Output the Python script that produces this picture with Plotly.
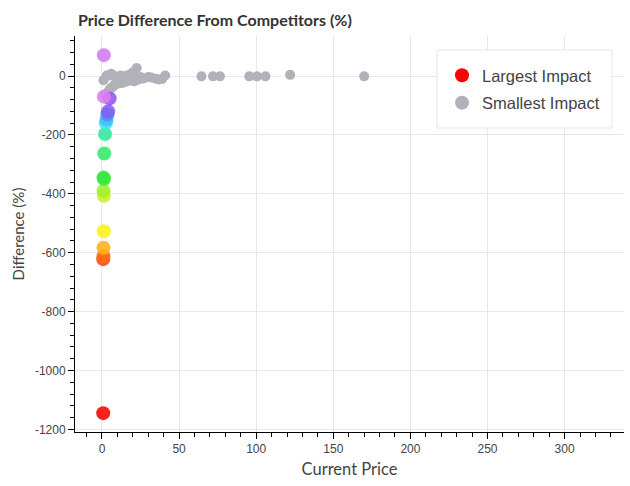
import plotly.graph_objects as go

# Largest impact points (coloured by impact)
x_large = [0.8, 0.8, 1.0, 1.0, 1.2, 1.2, 1.0, 1.3, 1.0, 1.5, 2.0, 2.5, 3.0, 3.5, 4.0, 5.0, 1.2, 1.2]
y_large = [-1145, -622, -611, -583, -527, -407, -390, -350, -345, -263, -197, -160, -148, -130, -120, -76, -70, 71]
c_large = ["#ff0000", "#ff4510", "#ff7015", "#ffb21a", "#f8f21a", "#c8f024", "#a2ee30",
           "#4eee30", "#34e646", "#34e86a", "#30e89a", "#40e8e4", "#44bcff", "#5a86ff",
           "#8060f0", "#9256ee", "#e07ef0", "#cf7cf0"]

# Smallest impact points (grey)
x_small = [1, 2, 3, 4, 5, 6, 7, 8, 9, 10, 11, 12, 13, 15, 16, 17, 19, 20, 21, 23, 24,
           3, 5, 6, 8, 10, 12, 14, 16, 18, 20, 22.5, 25, 27, 30, 32, 35, 37, 39, 41,
           64.5, 72, 76.5, 95.5, 100.5, 106, 122, 170]
y_small = [-14, -65, -59, -54, -45, -40, -37, -30, -28, -26, -22, -20, -24, -20, -18, -15, -15, -12, -18, -9, -12,
           2, 2, 8, 0, -5, 2, -3, 2, 5, 13, 27, -3, -8, -3, -5, -9, -12, -10, 2,
           -1, -1, -1, -1, -1, -1, 4, -1]

y_tickvals = [-1200, -1000, -800, -600, -400, -200, 0]
y_ticktext = ["-1200", "-1000", "-800", "-600", "-400", "-200", "0"]

fig = go.Figure()
fig.add_trace(go.Scatter(x=x_small, y=y_small, mode="markers", showlegend=False,
                         marker=dict(size=10, color="#b1b1b9", line=dict(width=0))))
fig.add_trace(go.Scatter(x=x_large, y=y_large, mode="markers", showlegend=False,
                         marker=dict(size=14, color=c_large, opacity=0.88, line=dict(width=0))))
# legend entries
fig.add_trace(go.Scatter(x=[None], y=[None], mode="markers", name="Largest Impact",
                         legendgroup="a", marker=dict(size=14, color="#ff0000")))
fig.add_trace(go.Scatter(x=[None], y=[None], mode="markers", name="Smallest Impact",
                         legendgroup="b", marker=dict(size=14, color="#b1b1b9")))

# legend box (paper coords of the plot area)
L, T, W, H = 75, 36, 549, 396
def px(x): return (x - L) / W
def py(y): return 1 - (y - T) / H
fig.add_shape(type="rect", xref="paper", yref="paper", layer="above",
              x0=px(437), x1=px(612), y0=py(128), y1=py(50),
              fillcolor="white", line=dict(color="#e5e5e5", width=1))

fig.update_layout(
    width=630, height=486,
    margin=dict(l=L, r=630 - L - W, t=T, b=486 - T - H),
    paper_bgcolor="white", plot_bgcolor="white",
    title=dict(text="<b>Price Difference From Competitors (%)</b>",
               font=dict(family="Lato", size=16, color="#333"),
               x=78/630, xanchor="left", xref="container",
               y=1-20/486, yanchor="middle", yref="container"),
    legend=dict(x=px(442), y=py(58), xanchor="left", yanchor="top",
                bgcolor="rgba(0,0,0,0)", borderwidth=0,
                font=dict(family="Liberation Sans, Arial", size=16.5, color="#444"),
                tracegroupgap=3, itemclick=False),
    font=dict(family="Liberation Sans, Arial", size=12, color="#444"),
)
fig.update_xaxes(range=[-17.5, 338.5], dtick=50, tick0=0, showgrid=True, gridcolor="#e8e8e8",
                 zeroline=False, showline=True, linecolor="black", linewidth=1,
                 ticks="outside", ticklen=6, tickcolor="black",
                 minor=dict(ticks="outside", ticklen=4, tickcolor="black", dtick=10, tick0=0, showgrid=False),
                 title=dict(text="Current Price", font=dict(family="Lato", size=16.5, color="#444"), standoff=8),
                 tickfont=dict(size=12, color="#444"))
fig.update_yaxes(range=[-1209, 136], tickmode="array", tickvals=y_tickvals, ticktext=y_ticktext,
                 showgrid=True, gridcolor="#e8e8e8",
                 zeroline=False, showline=True, linecolor="black", linewidth=1,
                 ticks="outside", ticklen=6, tickcolor="black",
                 minor=dict(ticks="outside", ticklen=4, tickcolor="black", tickmode="linear",
                            dtick=40, tick0=0, showgrid=False),
                 title=dict(text="Difference (%)", font=dict(family="Lato", size=15, color="#444"), standoff=6),
                 tickfont=dict(size=12, color="#444"))

fig.write_html("out.html")
